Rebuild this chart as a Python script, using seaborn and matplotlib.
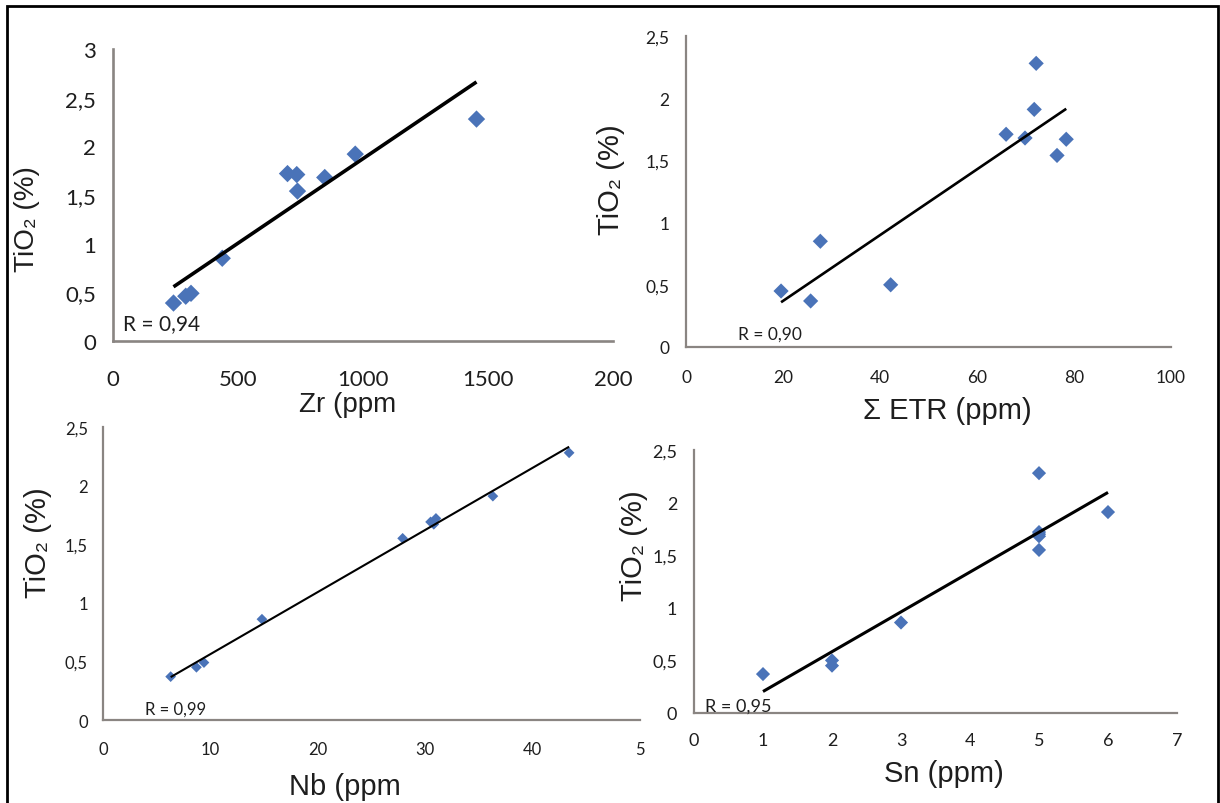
import numpy as np
import pandas as pd
import matplotlib
matplotlib.use("Agg")
import matplotlib.pyplot as plt
from matplotlib.patches import Rectangle
import seaborn as sns

# ---------------- data ----------------
zr = [242, 291, 312, 437, 698, 735, 738, 847, 969, 1454]
ti_zr = [0.39, 0.46, 0.49, 0.85, 1.72, 1.71, 1.54, 1.68, 1.92, 2.28]

etr = [19.6, 25.7, 27.7, 42.2, 66.0, 69.9, 72.2, 71.8, 76.5, 78.4]
ti_etr = [0.45, 0.37, 0.85, 0.50, 1.71, 1.68, 2.28, 1.91, 1.54, 1.67]

nb = [6.3, 8.7, 9.4, 14.8, 27.9, 30.5, 30.8, 31.0, 36.3, 43.4]
ti_nb = [0.37, 0.45, 0.49, 0.86, 1.55, 1.69, 1.67, 1.72, 1.91, 2.28]

sn = [1, 2, 2, 3, 5, 5, 5, 5, 5, 6]
ti_sn = [0.37, 0.45, 0.50, 0.86, 1.55, 1.68, 1.70, 1.72, 2.28, 1.91]

r_labels = ["R = 0,94", "R = 0,90", "R = 0,99", "R = 0,95"]
x_labels = ["Zr (ppm", "\u03a3 ETR (ppm)", "Nb (ppm", "Sn (ppm)"]
y_label = "TiO\u2082 (%)"

x_ticks_zr = [0, 500, 1000, 1500, 2000]
x_ticklabels_zr = ["0", "500", "1000", "1500", "200"]
x_ticks_etr = [0, 20, 40, 60, 80, 100]
x_ticklabels_etr = ["0", "20", "40", "60", "80", "100"]
x_ticks_nb = [0, 10, 20, 30, 40, 50]
x_ticklabels_nb = ["0", "10", "20", "30", "40", "5"]
x_ticks_sn = [0, 1, 2, 3, 4, 5, 6, 7]
x_ticklabels_sn = ["0", "1", "2", "3", "4", "5", "6", "7"]
y_ticks_3 = [0, 0.5, 1, 1.5, 2, 2.5, 3]
y_ticklabels_3 = ["0", "0,5", "1", "1,5", "2", "2,5", "3"]
y_ticks_25 = [0, 0.5, 1, 1.5, 2, 2.5]
y_ticklabels_25 = ["0", "0,5", "1", "1,5", "2", "2,5"]

# ---------------- style ----------------
sns.set_style("white")
plt.rcParams["font.family"] = ["Liberation Sans", "DejaVu Sans"]

BLUE = "#4a73b8"
SPINE = "#8a8582"
TXT = "#1e1e1e"
TICKFONT = ["Lato", "DejaVu Sans"]
LABFONT = ["Liberation Sans", "DejaVu Sans"]

W, H = 1220, 804
fig = plt.figure(figsize=(W / 100, H / 100), dpi=100)


def px_axes(x0, x1, y_top, y_bot):
    return fig.add_axes([x0 / W, 1 - y_bot / H, (x1 - x0) / W, (y_bot - y_top) / H])


panels = [
    dict(box=(113, 613, 50, 342), x=zr, y=ti_zr, xt=x_ticks_zr, xtl=x_ticklabels_zr,
         yt=y_ticks_3, ytl=y_ticklabels_3, xlim=(0, 2000), ylim=(0, 3),
         s=78, lw=2.6, tick_fs=16, r_fs=15, r_pos=(40, 0.185), lab_fs=20,
         xlab_pos=(0.47, -0.215), ylab_pos=(-0.172, 0.42), xpad=15, ypad=7, spw=1.9),
    dict(box=(686, 1171, 37, 348), x=etr, y=ti_etr, xt=x_ticks_etr, xtl=x_ticklabels_etr,
         yt=y_ticks_25, ytl=y_ticklabels_25, xlim=(0, 100), ylim=(0, 2.5),
         s=60, lw=1.9, tick_fs=12.5, r_fs=12.5, r_pos=(10.7, 0.11), lab_fs=21,
         xlab_pos=(0.538, -0.203), ylab_pos=(-0.155, 0.54), xpad=11, ypad=7, spw=1.6),
    dict(box=(103, 640, 428, 721), x=nb, y=ti_nb, xt=x_ticks_nb, xtl=x_ticklabels_nb,
         yt=y_ticks_25, ytl=y_ticklabels_25, xlim=(0, 50), ylim=(0, 2.5),
         s=30, lw=1.5, tick_fs=12, r_fs=12, r_pos=(3.9, 0.10), lab_fs=21,
         xlab_pos=(0.451, -0.225), ylab_pos=(-0.121, 0.608), xpad=10, ypad=6, spw=1.6),
    dict(box=(694, 1177, 451, 714), x=sn, y=ti_sn, xt=x_ticks_sn, xtl=x_ticklabels_sn,
         yt=y_ticks_25, ytl=y_ticklabels_25, xlim=(0, 7), ylim=(0, 2.5),
         s=52, lw=2.2, tick_fs=13, r_fs=13, r_pos=(0.16, 0.067), lab_fs=21,
         xlab_pos=(0.518, -0.228), ylab_pos=(-0.124, 0.639), xpad=9, ypad=7, spw=1.6),
]

for i, p in enumerate(panels):
    ax = px_axes(*p["box"])
    df = pd.DataFrame({"x": p["x"], "y": p["y"]})
    sns.regplot(data=df, x="x", y="y", ax=ax, ci=None, marker="D",
                scatter_kws=dict(s=p["s"], color=BLUE, edgecolors="none", alpha=1),
                line_kws=dict(color="black", lw=p["lw"], solid_capstyle="butt"))
    ax.set_xlim(*p["xlim"])
    ax.set_ylim(*p["ylim"])
    ax.set_xticks(p["xt"])
    ax.set_xticklabels(p["xtl"], fontfamily=TICKFONT, fontsize=p["tick_fs"], color=TXT)
    ax.set_yticks(p["yt"])
    ax.set_yticklabels(p["ytl"], fontfamily=TICKFONT, fontsize=p["tick_fs"], color=TXT)
    for side in ["top", "right"]:
        ax.spines[side].set_visible(False)
    for side in ["left", "bottom"]:
        ax.spines[side].set_color(SPINE)
        ax.spines[side].set_linewidth(p["spw"])
    ax.tick_params(axis="both", direction="out", length=5, width=p["spw"], color=SPINE)
    ax.tick_params(axis="x", pad=p["xpad"])
    ax.tick_params(axis="y", pad=p["ypad"])
    ax.set_xlabel(x_labels[i], fontfamily=LABFONT, fontsize=p["lab_fs"], color=TXT, va="center")
    ax.xaxis.set_label_coords(*p["xlab_pos"])
    ax.set_ylabel(y_label, fontfamily=LABFONT, fontsize=p["lab_fs"], color=TXT, va="center")
    ax.yaxis.set_label_coords(*p["ylab_pos"])
    ax.text(p["r_pos"][0], p["r_pos"][1], r_labels[i], fontfamily=TICKFONT,
            fontsize=p["r_fs"], color=TXT, ha="left", va="center")
    for sp in ax.spines.values():
        sp.set_zorder(0.5)
    ax.set_facecolor("none")

# outer frame
fig.patches.append(Rectangle((7 / W, -0.02), (1218 - 7) / W, 1.02 - 7 / H,
                             transform=fig.transFigure, fill=False,
                             edgecolor="black", linewidth=2.0))

fig.savefig("out.png", dpi=100, facecolor="white")
